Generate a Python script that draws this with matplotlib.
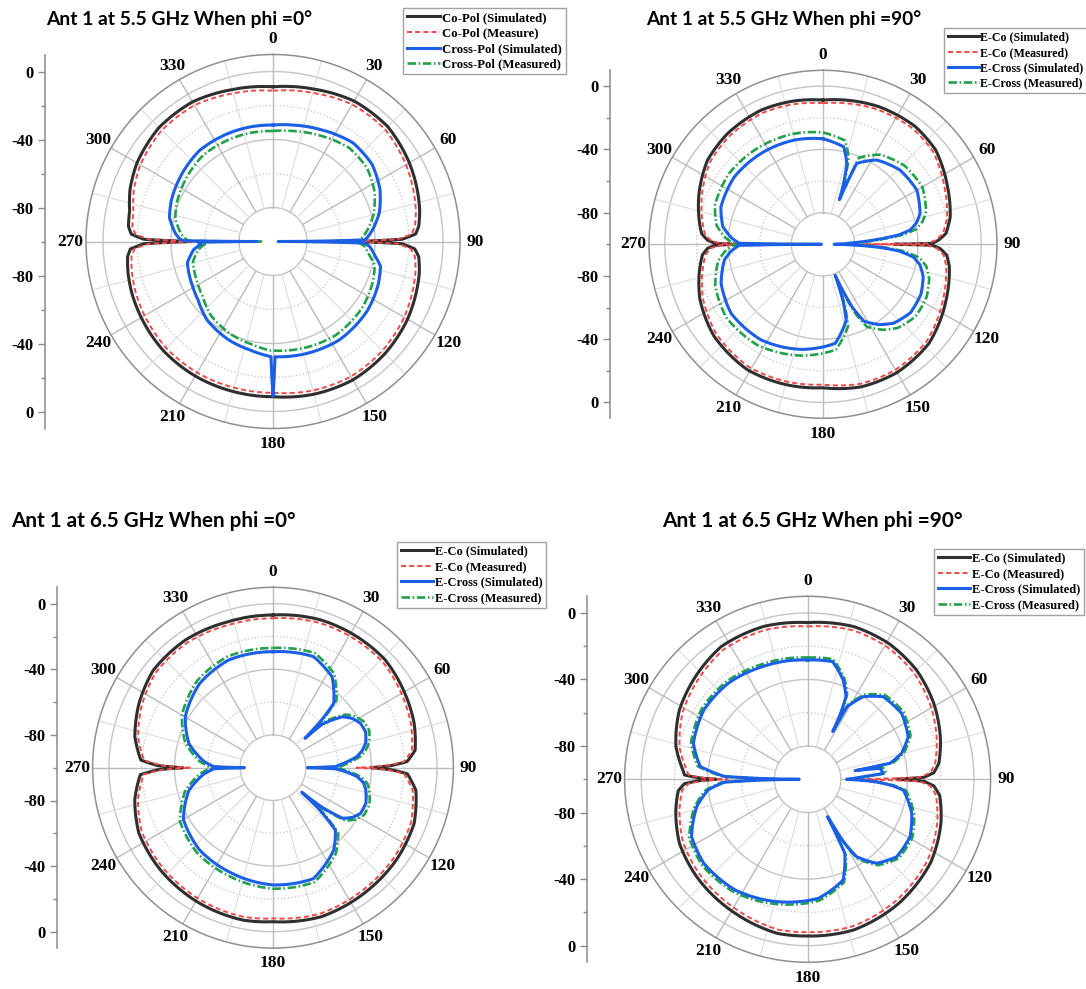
import numpy as np
import matplotlib
matplotlib.use('Agg')
import matplotlib.pyplot as plt

W, H = 1086, 989
SERIF = 'Liberation Serif'
SANS = 'Lato'

# ---------------- data: theta in degrees (clockwise from top), gain in dB ----------------
# Ant 1, 5.5 GHz, phi = 0
tl_co_ang = [0, 15, 30, 45, 60, 70, 78, 84, 87, 89, 90, 91, 93, 96, 102, 110, 120, 135, 150, 165,
             180, 195, 210, 225, 240, 250, 258, 264, 267, 269, 270, 271, 273, 276, 282, 290, 300,
             315, 330, 345, 360]
tl_co_sim = [-9.0, -7.2, -4.6, -4.5, -7.4, -9.8, -11.8, -13.8, -16.0, -24.0, -52.0, -24.0, -16.5,
             -13.8, -12.0, -10.5, -8.6, -6.8, -6.0, -7.0, -8.7, -8.7, -8.6, -9.0, -10.5, -11.6,
             -12.8, -14.0, -16.0, -24.0, -52.0, -24.0, -16.5, -14.5, -13.8, -10.5, -7.6, -5.2,
             -5.2, -7.5, -9.0]
tl_co_meas = [-11.3, -9.5, -6.9, -6.8, -9.7, -12.1, -14.1, -16.1, -18.5, -27.0, -60.0, -27.0,
              -19.0, -16.1, -14.3, -12.8, -10.9, -9.1, -8.3, -9.3, -11.0, -11.0, -10.9, -11.3,
              -12.8, -13.9, -15.1, -16.3, -18.5, -27.0, -58.0, -27.0, -19.0, -16.8, -16.1, -12.8,
              -9.9, -7.5, -7.5, -9.8, -11.3]
tl_x_ang = [0, 10, 23, 39, 52, 64, 75, 83, 87, 89, 90, 91, 93, 98, 103, 112, 126, 146, 166, 179,
            180, 181, 192, 204, 220, 232, 241, 256, 264, 268, 269.5, 270, 270.5, 272, 275, 283,
            292, 307, 321, 338, 350, 360]
tl_x_sim = [-31.5, -30.5, -28.5, -25.3, -26.1, -30.0, -35.3, -40.8, -44.0, -46.0, -97.0, -46.0,
            -43.0, -39.4, -35.1, -33.2, -31.2, -30.2, -31.4, -32.2, -9.0, -32.3, -34.8, -36.5,
            -39.7, -44.1, -45.9, -48.1, -53.0, -57.6, -56.0, -90.6, -47.0, -44.7, -42.2, -37.5,
            -35.5, -33.2, -31.2, -31.2, -31.3, -31.5]
tl_x_meas = [-35.0, -34.0, -32.0, -29.0, -29.8, -33.5, -38.8, -44.0, -47.0, -49.0, -72.0, -49.0,
             -46.0, -42.8, -38.6, -36.7, -34.7, -33.7, -34.9, -35.8, -36.0, -35.8, -38.3, -40.0,
             -43.2, -47.5, -49.3, -51.5, -56.0, -60.0, -59.0, -93.0, -50.5, -48.2, -45.6, -41.0,
             -39.0, -36.7, -34.7, -34.7, -34.8, -35.0]

# Ant 1, 5.5 GHz, phi = 90
tr_co_ang = [0, 22, 38, 50, 65, 78, 85, 88, 89.5, 90, 90.5, 92, 95, 100, 114, 133, 150, 165, 180,
             194, 211, 230, 246, 257, 265, 268, 269.5, 270, 270.5, 272, 275, 278, 292, 306, 319,
             335, 348, 360]
tr_co_sim = [-8.8, -6.1, -5.4, -7.1, -13.2, -17.8, -22.0, -27.0, -31.0, -55.0, -31.0, -26.0, -21.5,
             -18.9, -14.7, -8.3, -6.4, -6.7, -9.3, -8.3, -7.4, -9.9, -14.8, -19.7, -23.5, -27.0,
             -32.0, -45.0, -32.0, -27.0, -23.0, -21.6, -15.4, -9.7, -7.6, -6.6, -7.5, -8.8]
tr_co_meas = [-10.8, -8.1, -7.4, -9.1, -15.2, -19.8, -24.0, -29.0, -34.0, -75.0, -34.0, -28.0,
              -23.5, -20.9, -16.7, -10.3, -8.4, -8.7, -11.3, -10.3, -9.4, -11.9, -16.8, -21.7,
              -25.5, -29.0, -35.0, -52.0, -35.0, -29.0, -25.0, -23.6, -17.4, -11.7, -9.6, -8.6,
              -9.5, -10.8]
tr_x_ang = [0, 12, 16.4, 18.5, 20.2, 21.5, 22.6, 32.5, 46, 60, 72.3, 77, 80.7, 83, 85, 87, 90, 93,
            95, 98, 102, 108, 117, 128, 138, 145, 152, 155, 158.5, 160.5, 163, 173, 191.5, 212.8,
            233, 249, 261, 266, 269.3, 270, 270.7, 274, 280, 290, 307, 326, 345, 360]
tr_x_sim = [-33.3, -37.0, -46.6, -58.0, -70.0, -57.0, -44.6, -36.8, -32.4, -31.5, -35.6, -39.3,
            -44.2, -52.0, -66.0, -80.0, -93.0, -65.0, -52.0, -42.4, -37.3, -33.4, -30.5, -29.8,
            -33.0, -38.0, -45.0, -56.0, -79.0, -62.0, -49.8, -36.9, -32.2, -28.0, -27.3, -31.0,
            -36.9, -42.0, -47.0, -99.0, -47.0, -42.0, -35.7, -31.3, -29.6, -30.5, -31.7, -33.3]
tr_x_meas = [-29.3, -33.0, -42.6, -55.0, -68.0, -54.0, -40.6, -32.8, -28.4, -27.5, -31.6, -35.3,
             -40.2, -48.0, -62.0, -76.0, -90.0, -61.0, -48.0, -38.4, -33.3, -29.4, -26.5, -25.8,
             -29.0, -34.0, -41.0, -52.0, -76.0, -58.0, -45.8, -32.9, -28.2, -24.0, -23.3, -27.0,
             -32.9, -38.0, -43.0, -95.0, -43.0, -38.0, -31.7, -27.3, -25.6, -26.5, -27.7, -29.3]

# Ant 1, 6.5 GHz, phi = 0
bl_co_ang = [0, 18, 33, 46, 59, 72.6, 83, 87.4, 89, 90, 91, 92.6, 99, 111.5, 127, 144, 162, 180,
             191, 208, 228, 244, 257, 267, 269, 270, 271, 273.3, 282.6, 295.6, 309, 325.6, 343, 360]
bl_co_sim = [-6.9, -5.3, -5.1, -5.1, -7.4, -9.8, -12.7, -18.2, -28.0, -40.0, -28.0, -18.0, -11.8,
             -7.5, -6.1, -5.4, -4.5, -6.1, -5.3, -6.0, -7.3, -9.0, -13.5, -19.0, -30.0, -45.0,
             -30.0, -19.3, -13.7, -9.4, -5.9, -5.6, -6.9, -6.9]
bl_co_meas = [-8.9, -7.3, -7.1, -7.1, -9.4, -11.8, -14.7, -20.2, -31.0, -49.0, -31.0, -20.0, -13.8,
              -9.5, -8.1, -7.4, -6.5, -8.1, -7.3, -8.0, -9.3, -11.0, -15.5, -21.0, -33.0, -50.0,
              -33.0, -21.3, -15.7, -11.4, -7.9, -7.6, -8.9, -8.9]
bl_x_ang = [0, 20, 33, 43.3, 45.5, 47.5, 48.5, 53.8, 58, 63, 69, 75, 79, 82.5, 87, 89, 90, 91, 93,
            96, 99.5, 103.5, 111, 117.6, 122, 126, 129, 130.5, 132, 135, 143.6, 160, 180, 201, 222,
            240, 255, 265, 269, 270, 271, 275, 286, 300, 319, 337.5, 360]
bl_x_sim = [-29.3, -27.9, -33.9, -46.0, -58.0, -73.5, -60.0, -47.4, -43.2, -40.2, -39.4, -41.5,
            -44.5, -48.4, -58.0, -62.0, -79.0, -62.0, -56.0, -48.5, -44.0, -41.8, -39.3, -39.8,
            -42.8, -47.5, -62.2, -77.0, -62.0, -46.2, -37.6, -28.0, -28.5, -30.9, -32.8, -36.9,
            -47.0, -58.0, -64.0, -82.6, -64.0, -58.0, -46.7, -38.2, -31.9, -29.0, -29.3]
bl_x_meas = [-27.0, -25.6, -31.6, -43.5, -55.0, -71.0, -57.0, -45.0, -40.9, -37.9, -37.1, -39.2,
             -42.2, -46.0, -55.0, -59.0, -76.0, -59.0, -53.0, -46.0, -41.7, -39.5, -37.0, -37.5,
             -40.5, -45.0, -59.0, -74.0, -59.0, -43.8, -35.3, -25.8, -26.2, -28.6, -30.5, -34.5,
             -44.5, -55.0, -61.0, -80.0, -61.0, -55.0, -44.3, -35.9, -29.6, -26.8, -27.0]

# Ant 1, 6.5 GHz, phi = 90
br_co_ang = [0, 17, 31, 45, 59, 73, 83, 87, 89, 90, 91, 93, 97, 108, 124, 144, 163, 180, 191, 208,
             229, 243.5, 257, 265, 268, 269.3, 270, 270.7, 272, 274.3, 284, 298.4, 311, 327, 344, 360]
br_co_sim = [-5.8, -4.1, -4.9, -7.3, -11.5, -16.5, -20.5, -24.0, -30.0, -46.5, -30.0, -24.0, -20.0,
             -15.7, -10.7, -7.4, -5.3, -5.8, -5.6, -8.4, -11.3, -13.9, -18.7, -22.0, -26.0, -35.0,
             -45.0, -35.0, -26.0, -24.8, -18.4, -12.4, -9.0, -4.8, -4.4, -5.8]
br_co_meas = [-8.1, -6.4, -7.2, -9.6, -13.8, -18.8, -22.8, -26.3, -33.0, -76.0, -33.0, -26.3, -22.3,
              -18.0, -13.0, -9.7, -7.6, -8.1, -7.9, -10.7, -13.6, -16.2, -21.0, -24.3, -28.5, -38.0,
              -52.0, -38.0, -28.5, -27.1, -20.7, -14.7, -11.3, -7.1, -6.7, -8.1]
br_x_ang = [0, 12, 19.7, 24.9, 26.5, 27.8, 28.5, 34, 42.5, 55, 67, 74.5, 79, 79.7, 81.4, 85.5, 87.3,
            90, 92, 94, 96.4, 108, 119.3, 131, 140.6, 147.7, 150, 151.9, 153.3, 160.6, 174.7, 194,
            213, 231, 243.7, 256.2, 264, 268, 270, 272, 276.8, 287.5, 303.7, 320.4, 338.4, 360]
br_x_sim = [-28.3, -27.7, -36.6, -45.2, -55.0, -67.6, -50.4, -40.1, -32.7, -31.0, -34.3, -41.4,
            -49.5, -71.0, -56.0, -54.3, -66.5, -76.6, -60.0, -50.0, -42.1, -34.2, -29.4, -29.0,
            -34.7, -45.0, -56.0, -74.6, -50.2, -35.8, -28.2, -24.2, -20.5, -19.7, -22.2, -31.4,
            -40.0, -50.0, -95.0, -50.0, -35.0, -28.0, -25.0, -25.1, -27.1, -28.3]
br_x_meas = [-26.8, -26.2, -35.0, -43.5, -53.0, -66.0, -48.8, -38.5, -31.2, -29.5, -32.8, -39.8,
             -47.5, -69.0, -54.0, -52.5, -64.5, -75.0, -58.0, -48.3, -40.5, -32.7, -27.9, -27.5,
             -33.2, -43.5, -54.0, -72.5, -48.6, -34.3, -26.7, -22.7, -19.0, -18.2, -20.7, -29.9,
             -38.5, -48.5, -92.0, -48.5, -33.5, -26.5, -23.5, -23.6, -25.6, -26.8]

theta_ticks = list(range(0, 360, 30))
r_tick_pos = [-100, -60, -20, 20, 60, 100]
r_tick_lab = ['0', '-40', '-80', '-80', '-40', '0']

leg_pol = ['Co-Pol (Simulated)', 'Co-Pol (Measure)', 'Cross-Pol (Simulated)', 'Cross-Pol (Measured)']
leg_e = ['E-Co (Simulated)', 'E-Co (Measured)', 'E-Cross (Simulated)', 'E-Cross (Measured)']

fig = plt.figure(figsize=(W / 100, H / 100), dpi=100)
fig.patch.set_facecolor('white')


def panel(cx, cy, R, axis_x, co_ang, co_sim, co_meas, x_ang, x_sim, x_meas,
          title, title_xy, title_w, labels, leg_xy, leg_fs):
    ax = fig.add_axes([(cx - R) / W, (H - cy - R) / H, 2 * R / W, 2 * R / H], projection='polar')
    ax.set_theta_zero_location('N')
    ax.set_theta_direction(-1)
    ax.set_ylim(-100, 10)
    ax.grid(False)
    ax.set_yticks([])
    ax.set_xticks(np.deg2rad(theta_ticks))
    ax.set_xticklabels([str(t) for t in theta_ticks], fontfamily=SERIF, fontweight='bold', fontsize=12.5)
    ax.tick_params(axis='x', pad=4, length=0)
    ax.spines['polar'].set_color('#8f8f8f')
    ax.spines['polar'].set_linewidth(1.1)

    # rings and spokes
    t = np.linspace(0, 2 * np.pi, 721)
    for lvl in (-80, -40, 0):
        ax.plot(t, np.full_like(t, lvl), color='#c4c4c4', lw=1.0, zorder=1)
    for lvl in (-60, -20):
        ax.plot(t, np.full_like(t, lvl), color='#cccccc', lw=1.0, ls=(0, (1, 1.5)), zorder=1)
    for a in range(0, 360, 15):
        major = a % 30 == 0
        ax.plot([np.deg2rad(a)] * 2, [-80, 10], color='#bcbcbc' if major else '#dcdcdc',
                lw=1.0 if major else 0.8, zorder=1)

    h1, = ax.plot(np.deg2rad(co_ang), co_sim, color='#2f2f2f', lw=2.2, zorder=3)
    h2, = ax.plot(np.deg2rad(co_ang), co_meas, color='#f24848', lw=1.4, ls=(0, (2.6, 1.6)), zorder=4)
    h4, = ax.plot(np.deg2rad(x_ang), x_meas, color='#22a04c', lw=1.9, ls=(0, (3.2, 1.0, 0.6, 1.0)), zorder=5)
    h3, = ax.plot(np.deg2rad(x_ang), x_sim, color='#1a5fe6', lw=2.2, zorder=6)
    # let the polar transform draw each segment as a curve rather than a chord
    for h in (h1, h2, h3, h4):
        h.get_path()._interpolation_steps = 40

    leg = ax.legend([h1, h2, h3, h4], labels, loc='upper left',
                    bbox_to_anchor=(leg_xy[0] / W, 1 - leg_xy[1] / H), bbox_transform=fig.transFigure,
                    prop=dict(family=SERIF, weight='bold', size=leg_fs), frameon=True, fancybox=False,
                    edgecolor='#8a8a8a', handlelength=2.6, handletextpad=0.15, labelspacing=0.28,
                    borderpad=0.3, borderaxespad=0)
    leg.get_frame().set_linewidth(1.0)

    # vertical dB scale at the left
    ay = fig.add_axes([axis_x / W, (H - cy - R) / H, 0.5 / W, 2 * R / H])
    ay.set_ylim(-110, 110)
    ay.patch.set_visible(False)
    for s in ('top', 'right', 'bottom'):
        ay.spines[s].set_visible(False)
    ay.spines['left'].set_color('#8a8a8a')
    ay.spines['left'].set_linewidth(1.1)
    ay.set_xticks([])
    ay.set_yticks(r_tick_pos)
    ay.set_yticklabels(r_tick_lab, fontfamily=SERIF, fontweight='bold', fontsize=12)
    ay.set_yticks([-80, -40, 0, 40, 80], minor=True)
    ay.tick_params(axis='y', which='major', direction='out', length=5, width=1, color='#8a8a8a', pad=3)
    ay.tick_params(axis='y', which='minor', direction='out', length=3, width=1, color='#8a8a8a')

    txt = fig.text(title_xy[0] / W, 1 - title_xy[1] / H, title, fontfamily=SANS, fontweight='bold',
                   fontsize=14, ha='left', va='center')
    fig.canvas.draw()
    w = txt.get_window_extent(fig.canvas.get_renderer()).width
    txt.set_fontsize(14 * title_w / w)


panel(273, 241.5, 187, 45, tl_co_ang, tl_co_sim, tl_co_meas, tl_x_ang, tl_x_sim, tl_x_meas,
      'Ant 1 at 5.5 GHz When phi =0°', (46, 19), 268, leg_pol, (403, 8), 9.2)
panel(823, 244.3, 174, 610, tr_co_ang, tr_co_sim, tr_co_meas, tr_x_ang, tr_x_sim, tr_x_meas,
      'Ant 1 at 5.5 GHz When phi =90°', (646, 19), 278, leg_e, (944, 28), 8.6)
panel(273, 767.7, 180.4, 57, bl_co_ang, bl_co_sim, bl_co_meas, bl_x_ang, bl_x_sim, bl_x_meas,
      'Ant 1 at 6.5 GHz When phi =0°', (11, 521), 287, leg_e, (397, 542), 8.9)
panel(807.6, 779.3, 183, 587, br_co_ang, br_co_sim, br_co_meas, br_x_ang, br_x_sim, br_x_meas,
      'Ant 1 at 6.5 GHz When phi =90°', (662, 521), 302, leg_e, (934, 549), 9.0)

fig.savefig('out.png', dpi=100, facecolor='white')
